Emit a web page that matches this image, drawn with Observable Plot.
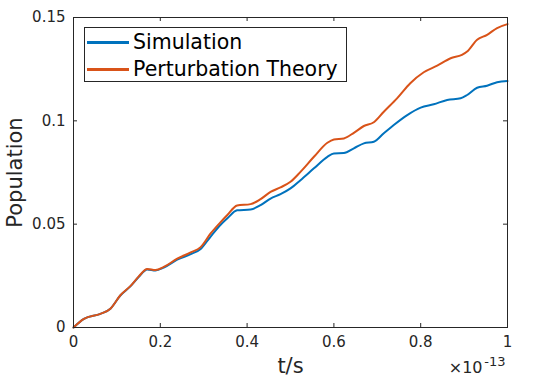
<!DOCTYPE html>
<html>
<head>
<meta charset="utf-8">
<script src="https://cdn.jsdelivr.net/npm/d3@7"></script>
<script src="https://cdn.jsdelivr.net/npm/@observablehq/plot@0.6"></script>
<style>
  html, body { margin: 0; padding: 0; background: #fff; }
  #wrap { position: relative; width: 560px; height: 379px; font-family: "DejaVu Sans", sans-serif; color: #262626; }
  #legend { position: absolute; left: 84px; top: 27px; width: 263px; height: 55px; border: 1px solid #262626; background: #fff; box-sizing: border-box; }
  .row { position: absolute; left: 2px; height: 24px; display: flex; align-items: center; white-space: nowrap; font-size: 20.5px; color: #000; }
  .sw { width: 42px; height: 0; border-top: 3px solid; margin-right: 4px; }
</style>
</head>
<body>
<div id="wrap">
  <div id="chart"></div>
  <div id="legend"></div>
</div>
<script>
// time in units of 1e-13 s
const tSim = [0, 0.024, 0.062, 0.085, 0.108, 0.131, 0.150, 0.170, 0.189, 0.208, 0.239, 0.27, 0.293, 0.316, 0.339, 0.354, 0.377, 0.408, 0.431, 0.454, 0.477, 0.5, 0.523, 0.554, 0.585, 0.6, 0.623, 0.646, 0.669, 0.692, 0.715, 0.738, 0.769, 0.8, 0.830, 0.861, 0.892, 0.907, 0.930, 0.953, 0.976, 1.0];
const simulation = [0, 0.0042, 0.0066, 0.0091, 0.0155, 0.0199, 0.0244, 0.0281, 0.0276, 0.029, 0.0328, 0.0355, 0.0380, 0.0440, 0.0497, 0.0527, 0.0567, 0.0571, 0.0592, 0.0624, 0.0645, 0.0673, 0.0713, 0.077, 0.0826, 0.0842, 0.0844, 0.0867, 0.0891, 0.0899, 0.094, 0.098, 0.1028, 0.1064, 0.108, 0.1101, 0.1109, 0.1125, 0.116, 0.117, 0.1187, 0.1193];

const tPert = [0, 0.024, 0.062, 0.085, 0.108, 0.131, 0.150, 0.170, 0.189, 0.208, 0.239, 0.27, 0.293, 0.316, 0.339, 0.354, 0.377, 0.408, 0.431, 0.454, 0.477, 0.5, 0.523, 0.554, 0.585, 0.6, 0.623, 0.646, 0.669, 0.692, 0.715, 0.746, 0.776, 0.807, 0.838, 0.869, 0.895, 0.907, 0.930, 0.953, 0.976, 1.0];
const perturbation = [0, 0.0042, 0.0066, 0.0091, 0.0156, 0.0200, 0.0246, 0.0283, 0.0278, 0.0293, 0.0333, 0.0363, 0.0389, 0.0455, 0.0510, 0.0543, 0.059, 0.0597, 0.0621, 0.0656, 0.0678, 0.0705, 0.0753, 0.0826, 0.0894, 0.091, 0.0915, 0.0942, 0.0975, 0.0993, 0.1044, 0.111, 0.1182, 0.1235, 0.1267, 0.1303, 0.1319, 0.1335, 0.1392, 0.1416, 0.1449, 0.1468];

const seriesNames = ["Simulation", "Perturbation Theory"];
const seriesColors = ["#0072BD", "#D95319"];
const xTicks = [0, 0.2, 0.4, 0.6, 0.8, 1];
const yTicks = [0, 0.05, 0.1, 0.15];
const xLabel = "t/s";
const yLabel = "Population";
const xExponentBase = "×10";
const xExponent = "-13";

const data = [
  ...tSim.map((t, i) => ({t, p: simulation[i], s: seriesNames[0]})),
  ...tPert.map((t, i) => ({t, p: perturbation[i], s: seriesNames[1]}))
];

const W = 560, H = 379, mL = 73, mR = 53, mT = 17, mB = 52;
const pw = W - mL - mR, ph = H - mT - mB, tick = 4;
const ink = "#262626";

const chart = Plot.plot({
  width: W, height: H,
  marginLeft: mL, marginRight: mR, marginTop: mT, marginBottom: mB,
  style: {fontFamily: "DejaVu Sans, sans-serif", color: ink, background: "#fff"},
  x: {domain: [0, 1]},
  y: {domain: [0, 0.15]},
  color: {domain: seriesNames, range: seriesColors},
  marks: [
    Plot.lineY(data, {x: "t", y: "p", stroke: "s", strokeWidth: 2, curve: "monotone-x"}),
    Plot.frame({stroke: ink, strokeWidth: 1}),
    Plot.ruleX(xTicks, {x: d => d, insetTop: ph - tick, stroke: ink}),
    Plot.ruleX(xTicks, {x: d => d, insetBottom: ph - tick, stroke: ink}),
    Plot.ruleY(yTicks, {y: d => d, insetRight: pw - tick, stroke: ink}),
    Plot.ruleY(yTicks, {y: d => d, insetLeft: pw - tick, stroke: ink}),
    Plot.axisX(xTicks, {tickSize: 0, tickPadding: 9, fontSize: 15, tickFormat: d => String(d), label: null, fill: ink}),
    Plot.axisY(yTicks, {tickSize: 0, tickPadding: 8, fontSize: 15, tickFormat: d => String(d), label: null, fill: ink}),
    Plot.text([xLabel], {frameAnchor: "bottom", lineAnchor: "middle", textAnchor: "middle", dy: 39, fontSize: 21, fill: ink}),
    Plot.text([yLabel], {frameAnchor: "left", lineAnchor: "middle", textAnchor: "middle", dx: -58, rotate: -90, fontSize: 21, fill: ink}),
    Plot.text([xExponentBase], {frameAnchor: "bottom-right", lineAnchor: "middle", textAnchor: "end", dx: -25, dy: 40, fontSize: 16, fill: ink}),
    Plot.text([xExponent], {frameAnchor: "bottom-right", lineAnchor: "middle", textAnchor: "end", dx: -2, dy: 34, fontSize: 13, fill: ink})
  ]
});
document.getElementById("chart").appendChild(chart);

const legend = document.getElementById("legend");
seriesNames.forEach((name, i) => {
  const row = document.createElement("div");
  row.className = "row";
  row.style.top = (2 + i * 27) + "px";
  const sw = document.createElement("span");
  sw.className = "sw";
  sw.style.borderTopColor = seriesColors[i];
  const tx = document.createElement("span");
  tx.textContent = name;
  row.appendChild(sw);
  row.appendChild(tx);
  legend.appendChild(row);
});
</script>
</body>
</html>
